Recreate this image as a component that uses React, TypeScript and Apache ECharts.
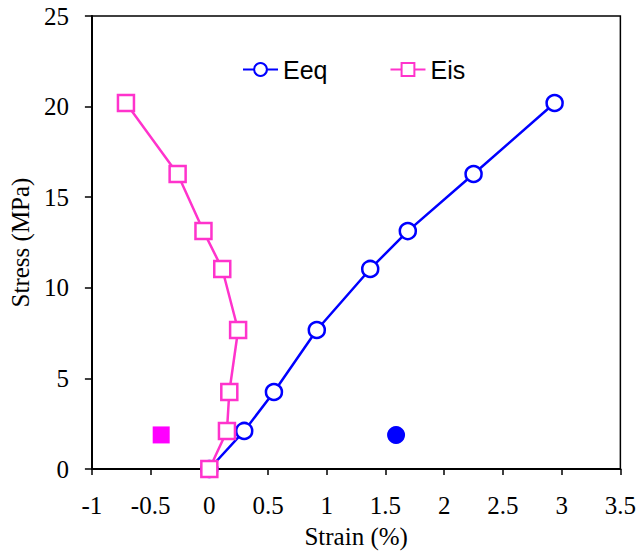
import React, { useEffect, useRef } from "react";
import * as echarts from "echarts";

const eeqStrain = [0, 0.297, 0.55, 0.915, 1.37, 1.69, 2.25, 2.94];
const eeqStress = [0, 2.1, 4.25, 7.67, 11.04, 13.13, 16.28, 20.2];
const eisStrain = [0, 0.15, 0.17, 0.245, 0.11, -0.05, -0.27, -0.71];
const eisStress = [0, 2.1, 4.25, 7.67, 11.04, 13.13, 16.28, 20.2];
const markerEeq = [[1.59, 1.88]];
const markerEis = [[-0.41, 1.88]];

const BLUE = "#0000FF";
const PINK = "#FF33CC";
const MAGENTA = "#FF00FF";

export default function App() {
  const ref = useRef<HTMLDivElement>(null);
  useEffect(() => {
    const chart = echarts.init(ref.current!, null, { renderer: "svg" });
    const serif = "Liberation Serif";
    const tick = { fontFamily: serif, fontSize: 25, color: "#000" };
    chart.setOption({
      animation: false,
      backgroundColor: "#fff",
      textStyle: { fontFamily: serif, fontSize: 25 },
      grid: {
        left: 90,
        right: 18,
        top: 16,
        bottom: 86,
        show: true,
        borderColor: "#000",
        borderWidth: 1.5,
      },
      legend: {
        top: 52,
        left: 237,
        itemGap: 62,
        itemWidth: 35,
        itemHeight: 16,
        textStyle: { fontFamily: "Liberation Sans", fontSize: 25, color: "#000" },
        data: ["Eeq", "Eis"],
      },
      xAxis: {
        type: "value",
        min: -1,
        max: 3.5,
        interval: 0.5,
        name: "Strain (%)",
        nameLocation: "middle",
        nameGap: 55,
        nameTextStyle: { fontFamily: serif, fontSize: 25, color: "#000" },
        axisLine: { onZero: false, lineStyle: { color: "#000", width: 2 } },
        axisTick: { inside: false, length: 6, lineStyle: { color: "#000", width: 1.5 } },
        axisLabel: {
          ...tick,
          margin: 24,
          formatter: (v: number) => String(Math.round(v * 10) / 10),
        },
        splitLine: { show: false },
      },
      yAxis: {
        type: "value",
        min: 0,
        max: 25,
        interval: 5,
        name: "Stress (MPa)",
        nameLocation: "middle",
        nameGap: 52,
        nameTextStyle: { fontFamily: serif, fontSize: 25, color: "#000" },
        axisLine: { onZero: false, lineStyle: { color: "#000", width: 2 } },
        axisTick: { inside: false, length: 7, lineStyle: { color: "#000", width: 1.5 } },
        axisLabel: { ...tick, margin: 23 },
        splitLine: { show: false },
      },
      series: [
        {
          name: "Eeq",
          type: "line",
          data: eeqStrain.map((x, i) => [x, eeqStress[i]]),
          symbol: "circle",
          symbolSize: 16,
          lineStyle: { color: BLUE, width: 2.5 },
          itemStyle: { color: "#fff", borderColor: BLUE, borderWidth: 2.5 },
          z: 2,
        },
        {
          name: "Eis",
          type: "line",
          data: eisStrain.map((x, i) => [x, eisStress[i]]),
          symbol: "rect",
          symbolSize: 16,
          lineStyle: { color: PINK, width: 2.5 },
          itemStyle: { color: "#fff", borderColor: PINK, borderWidth: 2.5 },
          z: 3,
        },
        {
          name: "eqMarker",
          type: "scatter",
          data: markerEeq,
          symbol: "circle",
          symbolSize: 18,
          itemStyle: { color: BLUE, opacity: 1 },
        },
        {
          name: "isMarker",
          type: "scatter",
          data: markerEis,
          symbol: "rect",
          symbolSize: 17,
          itemStyle: { color: MAGENTA, opacity: 1 },
        },
      ],
    });
    return () => chart.dispose();
  }, []);
  return <div ref={ref} style={{ width: 639, height: 555, position: "absolute", left: 0, top: 0 }} />;
}
